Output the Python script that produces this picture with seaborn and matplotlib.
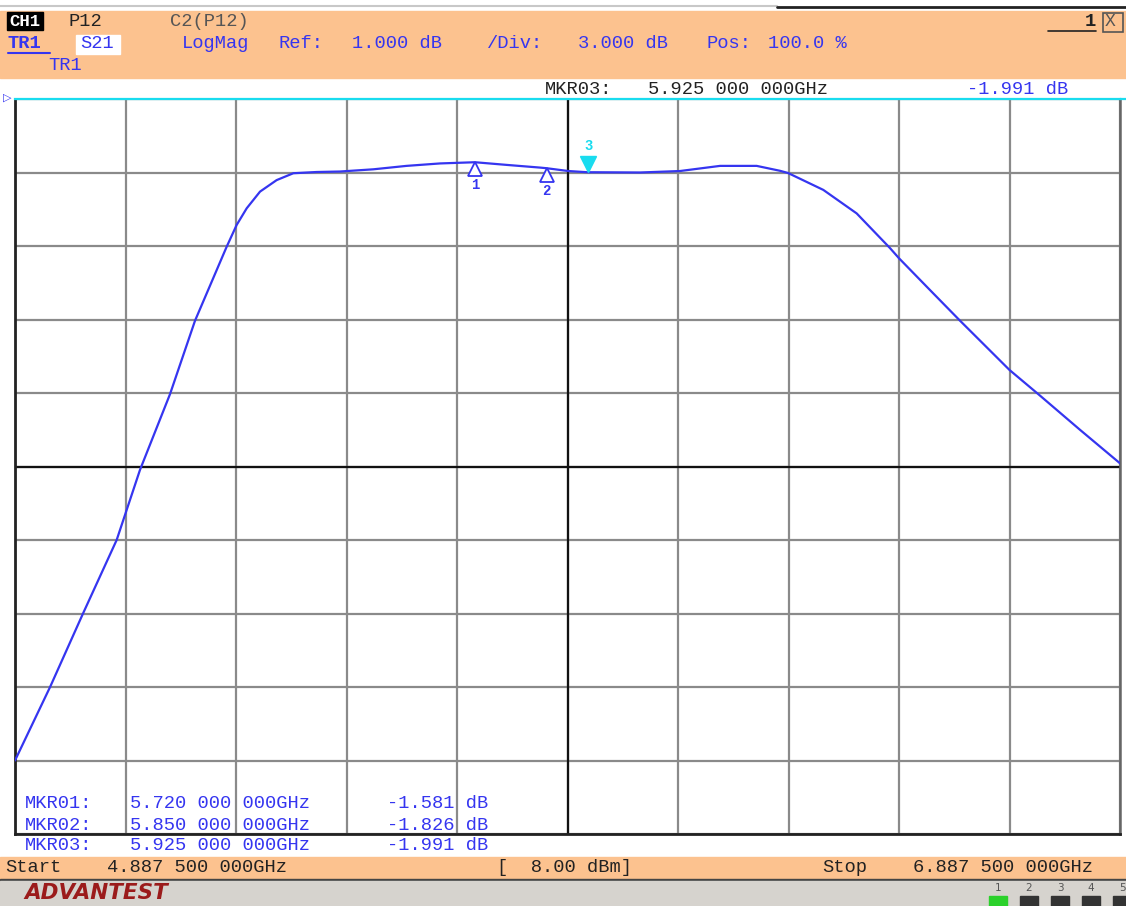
import matplotlib
matplotlib.use('Agg')
import matplotlib.pyplot as plt
import matplotlib.transforms as mtransforms
from matplotlib.patches import Rectangle
import seaborn as sns
import pandas as pd

# S21 trace (GHz, dB)
freq = [4.8875, 4.951, 5.0106, 5.0715, 5.1137, 5.168, 5.2133, 5.2706, 5.2887, 5.3069,
        5.331, 5.3611, 5.3913, 5.4335, 5.4757, 5.536, 5.596, 5.657, 5.72, 5.7775,
        5.838, 5.85, 5.889, 5.925, 5.934, 6.019, 6.091, 6.1636, 6.2299, 6.272,
        6.2866, 6.3505, 6.4109, 6.471, 6.4875, 6.5437, 6.598, 6.6875, 6.7398, 6.8155,
        6.8875]
s21 = [-26.0, -23.0, -20.0, -17.0, -14.14, -11.05, -8.05, -5.03, -4.14, -3.46,
       -2.78, -2.31, -2.03, -1.98, -1.96, -1.87, -1.73, -1.63, -1.581, -1.69,
       -1.80, -1.826, -1.94, -1.991, -1.99, -2.0, -1.94, -1.73, -1.73, -1.93,
       -2.02, -2.71, -3.67, -5.08, -5.50, -6.80, -8.05, -10.06, -11.05, -12.51,
       -13.87]

marker_ids = ['1', '2', '3']
marker_freq = [5.720, 5.850, 5.925]
marker_db = [-1.581, -1.826, -1.991]
marker_freq_txt = ['5.720 000 000GHz', '5.850 000 000GHz', '5.925 000 000GHz']
marker_db_txt = ['-1.581 dB', '-1.826 dB', '-1.991 dB']

start_ghz, stop_ghz = 4.8875, 6.8875
ref_db, div_db = 1.0, 3.0

W, H = 1126, 906
ORANGE = '#fcc28f'
BLUE = '#3535f0'
CYAN = '#19dcef'
MONO = 'Liberation Mono'

sns.set_style('white')
fig = plt.figure(figsize=(W / 100, H / 100), dpi=100)
fig.patch.set_facecolor('white')


def px(x, y):
    return x / W, 1 - y / H


def ftext(x, y, s, **kw):
    kw.setdefault('family', MONO)
    kw.setdefault('fontsize', 13.5)
    kw.setdefault('va', 'center')
    fig.text(*px(x, y), s, **kw)


def frect(x, y, w, h, **kw):
    fig.patches.append(Rectangle(px(x, y + h), w / W, h / H,
                                 transform=fig.transFigure, **kw))


# window chrome
fig.add_artist(plt.Line2D([0, 777 / W], [1 - 6 / H] * 2, color='#c8c8c8', lw=1.5))
fig.add_artist(plt.Line2D([777 / W, 1], [1 - 7 / H] * 2, color='#222222', lw=2))
frect(0, 11, W, 67, color=ORANGE, zorder=0)
frect(0, 857, W, 22, color=ORANGE, zorder=0)
frect(0, 879, W, 2, color='#444444', zorder=0)
frect(0, 881, W, 25, color='#d6d3ce', zorder=0)

# header lines
frect(7, 12, 36, 18, color='black', zorder=1)
ftext(9, 21, 'CH1', color='white', weight='bold', fontsize=12.5)
ftext(68, 21, 'P12', color='#222222')
ftext(170, 21, 'C2(P12)', color='#555555')
ftext(8, 44, 'TR1', color=BLUE, weight='bold')
fig.add_artist(plt.Line2D([8 / W, 50 / W], [1 - 53 / H] * 2, color=BLUE, lw=1.5))
frect(76, 35, 44, 19, color='white', zorder=1)
ftext(80, 44, 'S21', color=BLUE)
ftext(182, 44, 'LogMag', color=BLUE)
ftext(278, 44, 'Ref:', color=BLUE)
ftext(352, 44, '1.000 dB', color=BLUE)
ftext(487, 44, '/Div:', color=BLUE)
ftext(578, 44, '3.000 dB', color=BLUE)
ftext(707, 44, 'Pos:', color=BLUE)
ftext(768, 44, '100.0 %', color=BLUE)
ftext(48, 66, 'TR1', color=BLUE)
ftext(1085, 22, '1', color='#222222', weight='bold')
fig.add_artist(plt.Line2D([1048 / W, 1096 / W], [1 - 31 / H] * 2, color='#222222', lw=1.2))
frect(1103, 13, 20, 19, fill=False, ec='#555555', lw=1.2)
ftext(1105, 22, 'X', color='#555555', fontsize=13)

# active marker readout
ftext(545, 89, 'MKR03:', color='#222222')
ftext(648, 89, marker_freq_txt[2], color='#222222')
ftext(967, 89, marker_db_txt[2], color=BLUE)

# plot area
ax = fig.add_axes([*px(15, 834), 1105 / W, 735 / H])
df = pd.DataFrame({'freq': freq, 's21': s21})
sns.lineplot(data=df, x='freq', y='s21', ax=ax, color=BLUE, lw=1.6, zorder=5)

bottom_db = ref_db - 10 * div_db
span = stop_ghz - start_ghz
ax.set_xlim(start_ghz, stop_ghz)
ax.set_ylim(bottom_db, ref_db)
ax.set_xticks([start_ghz + i * span / 10 for i in range(11)])
ax.set_yticks([bottom_db + i * div_db for i in range(11)])
ax.set_xticklabels([])
ax.set_yticklabels([])
ax.tick_params(length=0)
ax.set_xlabel('')
ax.set_ylabel('')
ax.grid(True, color='#8a8a8a', lw=1.6)
ax.axvline(start_ghz + span / 2, color='#111111', lw=1.6)
ax.axhline(ref_db - 5 * div_db, color='#111111', lw=1.6)
for side in ['left', 'bottom']:
    ax.spines[side].set_color('#222222')
    ax.spines[side].set_linewidth(2)
ax.spines['right'].set_color('#666666')
ax.spines['right'].set_linewidth(1.8)
ax.spines['top'].set_color(CYAN)
ax.spines['top'].set_linewidth(1.6)
fig.add_artist(plt.Line2D([1120 / W, 1], [1 - 99 / H] * 2, color=CYAN, lw=1.6))
ftext(3, 98, '▷', color=BLUE, family='DejaVu Sans', fontsize=8)

# markers
for mid, mf, md in zip(marker_ids, marker_freq, marker_db):
    if mid == '3':
        tr = mtransforms.offset_copy(ax.transData, fig, y=8, units='dots')
        ax.plot(mf, md, marker='v', ms=11, color=CYAN, transform=tr, zorder=6)
        tr = mtransforms.offset_copy(ax.transData, fig, y=26, units='dots')
        ax.text(mf, md, mid, color=CYAN, transform=tr, ha='center', va='center',
                fontsize=10, weight='bold', family=MONO)
    else:
        tr = mtransforms.offset_copy(ax.transData, fig, y=-7, units='dots')
        ax.plot(mf, md, marker='^', ms=10, mfc='white', mec=BLUE, mew=1.3,
                transform=tr, zorder=6)
        tr = mtransforms.offset_copy(ax.transData, fig, y=-23, units='dots')
        ax.text(mf, md, mid, color=BLUE, transform=tr, ha='center', va='center',
                fontsize=10, weight='bold', family=MONO)

# marker table
for i in range(3):
    y = 804 + 21 * i
    ftext(25, y, 'MKR0%d:' % (i + 1), color=BLUE, zorder=7)
    ftext(130, y, marker_freq_txt[i], color=BLUE, zorder=7)
    ftext(387, y, marker_db_txt[i], color=BLUE, zorder=7)

# sweep info
ftext(5, 867, 'Start', color='#222222')
ftext(107, 867, '4.887 500 000GHz', color='#222222')
ftext(497, 867, '[  8.00 dBm]', color='#222222')
ftext(822, 867, 'Stop', color='#222222')
ftext(913, 867, '6.887 500 000GHz', color='#222222')

ftext(24, 893, 'ADVANTEST', color='#9b1b1b', family='DejaVu Sans', weight='heavy',
      style='italic', fontsize=15.5)
for i in range(5):
    x = 998 + i * 31
    ftext(x, 888, str(i + 1), color='#555555', family='DejaVu Sans', fontsize=7.5, ha='center')
    frect(x - 9, 896, 18, 10, color='#2bd12b' if i == 0 else '#333333')

fig.savefig('out.png', dpi=100)
